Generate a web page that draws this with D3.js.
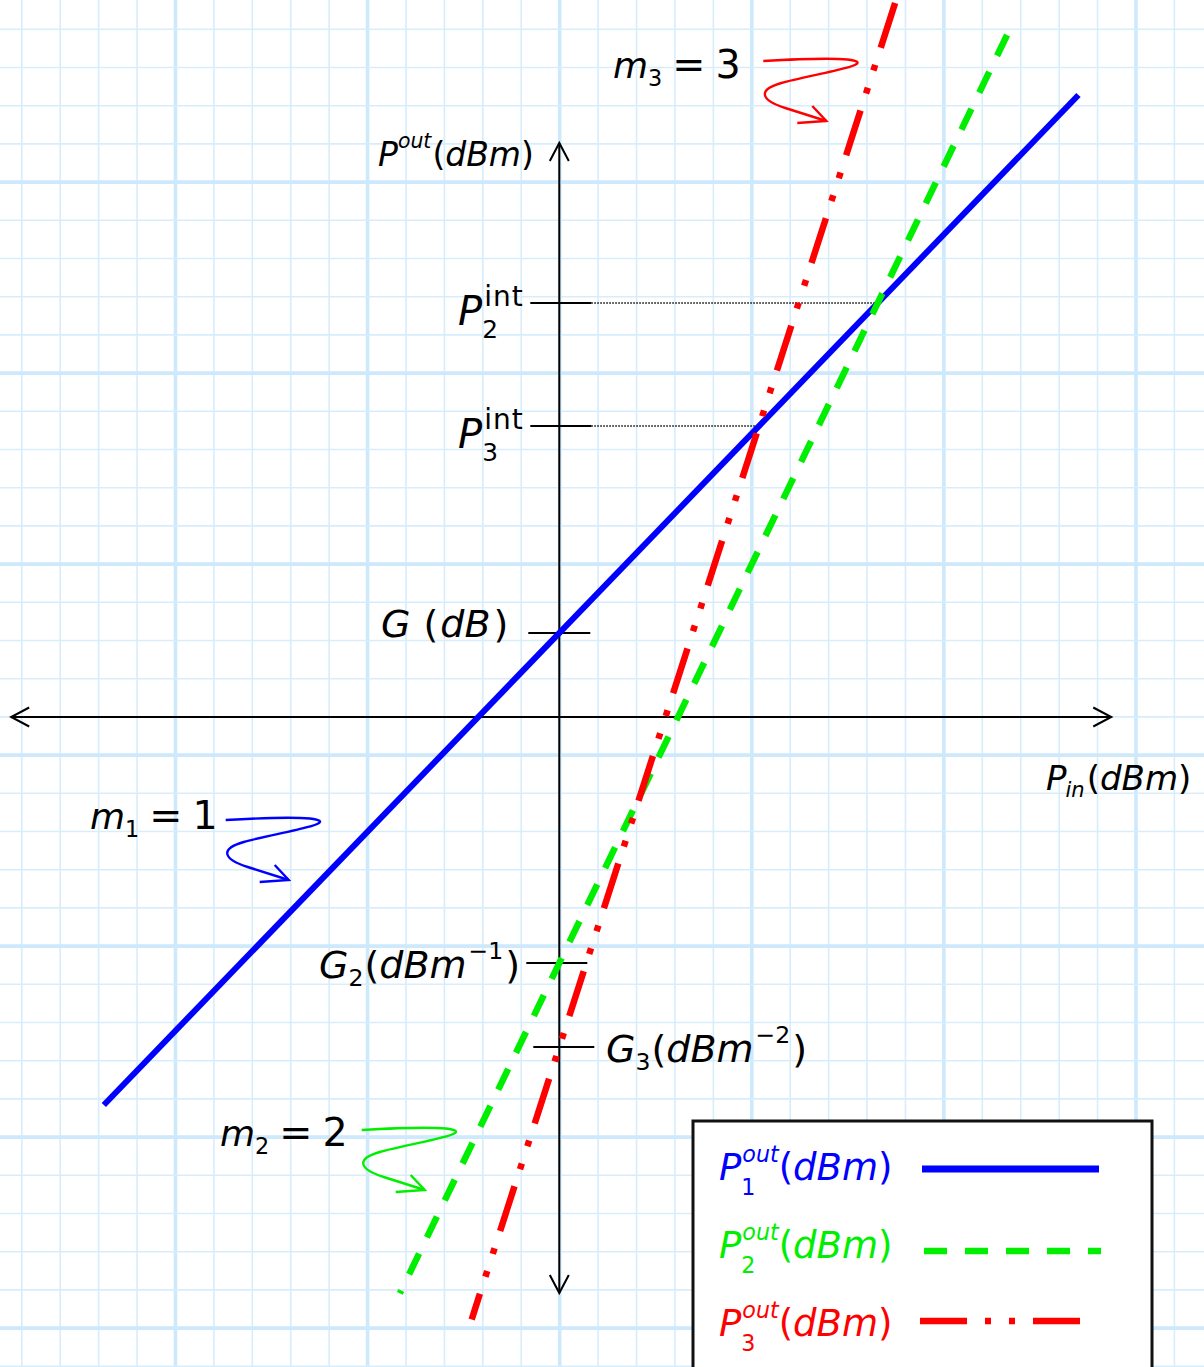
<!DOCTYPE html>
<html>
<head>
<meta charset="utf-8">
<script src="https://cdn.jsdelivr.net/npm/d3@7"></script>
<style>
  body { margin: 0; background: #fff; }
  svg { display: block; }
  text { font-family: "DejaVu Sans", sans-serif; }
</style>
</head>
<body>
<svg id="chart" width="1204" height="1367"></svg>
<script>
// ---- model: Pout_k = m_k * Pin + G_k  (all in dB / dBm) ----
const seriesKeys   = ["1", "2", "3"];
const slopes       = [1, 2, 3];
const intercepts   = [4.2, -12.3, -16.5];          // G, G2, G3
// Pin range of each drawn line, listed top end first
const pinRanges    = [[26.9, -23.6], [23.2, -8.26], [17.4, -4.54]];
const seriesColors = ["#0000ff", "#00ee00", "#ff0000"];
const seriesDashes = [null, "23 18", "47 18 6 18 6 18"];
const xAxisExtent  = [-28.4, 28.6];
const yAxisExtent  = [-28.8, 28.7];

const W = 1204, H = 1367;
const svg = d3.select("#chart");

const x = d3.scaleLinear().domain([-28, 34]).range([18.9, 1215.5]);
const y = d3.scaleLinear().domain([-32, 36]).range([1357, -3]);

// ---- graph-paper background ----
const paper = svg.append("g");
const gx0 = 21.8, gdx = 38.42, gy0 = 29.3, gdy = 38.2;
d3.range(0, 32).forEach(k => {
  const major = (k - 4) % 5 === 0;
  paper.append("line")
    .attr("x1", gx0 + k * gdx).attr("x2", gx0 + k * gdx)
    .attr("y1", 0).attr("y2", H)
    .attr("stroke", major ? "#cde9fb" : "#d7edfc")
    .attr("stroke-width", major ? 3.6 : 1.6);
});
d3.range(0, 36).forEach(k => {
  const major = (k - 4) % 5 === 0;
  paper.append("line")
    .attr("y1", gy0 + k * gdy).attr("y2", gy0 + k * gdy)
    .attr("x1", 0).attr("x2", W)
    .attr("stroke", major ? "#cde9fb" : "#d7edfc")
    .attr("stroke-width", major ? 3.6 : 1.6);
});

// ---- rich text helper: pieces laid out left to right, sub/sup via dy ----
function rich(g, x0, base, size, color, parts) {
  let cx = x0, prevStart = x0, prevW = 0;
  parts.forEach(p => {
    const fs = size * (p.s || 1);
    const px = (p.over ? prevStart : cx) + (p.dx || 0);
    const t = g.append("text")
      .attr("x", px).attr("y", base + (p.dy || 0) * size)
      .attr("font-size", fs).attr("fill", color)
      .attr("font-style", p.it ? "italic" : "normal")
      .text(p.t);
    if (p.ls) t.attr("letter-spacing", p.ls);
    const w = t.node().getComputedTextLength();
    if (p.over) {
      cx = Math.max(prevStart + prevW, px + w);
    } else {
      prevStart = px; prevW = w; cx = px + w;
    }
  });
}

// ---- axes with open arrowheads at both ends ----
const axes = svg.append("g").attr("stroke", "#000").attr("fill", "none").attr("stroke-width", 2);
axes.append("line")
  .attr("x1", x(xAxisExtent[0])).attr("x2", x(xAxisExtent[1]))
  .attr("y1", y(0)).attr("y2", y(0));
axes.append("line")
  .attr("x1", x(0)).attr("x2", x(0))
  .attr("y1", y(yAxisExtent[0])).attr("y2", y(yAxisExtent[1]));
function arrowHead(tx, ty, dirx, diry) {
  const L = 18, Hw = 9.5;
  const px = -diry, py = dirx;
  axes.append("path").attr("d",
    `M${tx - dirx * L + px * Hw},${ty - diry * L + py * Hw} L${tx},${ty} L${tx - dirx * L - px * Hw},${ty - diry * L - py * Hw}`);
}
arrowHead(x(xAxisExtent[1]), y(0), 1, 0);
arrowHead(x(xAxisExtent[0]), y(0), -1, 0);
arrowHead(x(0), y(yAxisExtent[1]), 0, -1);
arrowHead(x(0), y(yAxisExtent[0]), 0, 1);

// ---- intercept points of P1 with P2 and P3 ----
function meet(i, j) {
  const px = (intercepts[j] - intercepts[i]) / (slopes[i] - slopes[j]);
  return [px, slopes[i] * px + intercepts[i]];
}
const P2int = meet(0, 1);
const P3int = meet(0, 2);

// dotted guides from the axis ticks to the intercept points
const guides = svg.append("g").attr("stroke", "#000").attr("stroke-width", 1.4)
  .attr("stroke-dasharray", "1.5 1.5");
[P2int, P3int].forEach(p => {
  guides.append("line")
    .attr("x1", x(0) + 32).attr("x2", x(p[0]))
    .attr("y1", y(p[1])).attr("y2", y(p[1]));
});

// ---- ticks on the Pout axis ----
const tickDefs = [
  { v: P2int[1], a: -29, b: 32 },
  { v: P3int[1], a: -29, b: 32 },
  { v: intercepts[0], a: -31, b: 31 },
  { v: intercepts[1], a: -33, b: 28 },
  { v: intercepts[2], a: -26, b: 35 }
];
const ticks = svg.append("g").attr("stroke", "#000").attr("stroke-width", 2);
tickDefs.forEach(d => {
  ticks.append("line")
    .attr("x1", x(0) + d.a).attr("x2", x(0) + d.b)
    .attr("y1", y(d.v)).attr("y2", y(d.v));
});

// ---- the three response lines ----
const line = d3.line().x(d => x(d[0])).y(d => y(d[1]));
const curves = svg.append("g").attr("fill", "none");
seriesKeys.forEach((k, i) => {
  const pts = pinRanges[i].map(p => [p, slopes[i] * p + intercepts[i]]);
  const path = curves.append("path")
    .attr("d", line(pts))
    .attr("stroke", seriesColors[i])
    .attr("stroke-width", i === 0 ? 6 : 6.5)
    .attr("stroke-linecap", "butt");
  if (seriesDashes[i]) path.attr("stroke-dasharray", seriesDashes[i]);
});

// ---- labels ----
const labels = svg.append("g");
const it = true;
rich(labels, 378, 166, 33, "#000", [
  { t: "P", it }, { t: "out", it, s: 0.62, dy: -0.55, dx: 0 },
  { t: "(", dx: 1 }, { t: "dBm", it }, { t: ")" }
]);
rich(labels, 1046, 790, 34, "#000", [
  { t: "P", it }, { t: "in", it, s: 0.62, dy: 0.22, dx: -1 },
  { t: "(", dx: 2 }, { t: "dBm", it }, { t: ")" }
]);
[[P2int, "2"], [P3int, "3"]].forEach(([p, k]) => {
  const ty = y(p[1]);
  rich(labels, 458, ty + 22, 40, "#000", [
    { t: "P", it }, { t: k, s: 0.62, dy: 0.33, dx: 0 },
    { t: "int", s: 0.7, dy: -0.48, over: true, dx: 2, ls: 1 }
  ]);
});
rich(labels, 381, y(intercepts[0]) + 4, 38, "#000", [
  { t: "G", it }, { t: "(", dx: 13 }, { t: "dB", it, dx: 2 }, { t: ")", dx: 3 }
]);
rich(labels, 319, y(intercepts[1]) + 15, 38, "#000", [
  { t: "G", it }, { t: "2", s: 0.62, dy: 0.2, dx: 0 },
  { t: "(", dx: 1 }, { t: "dBm", it }, { t: "\u22121", s: 0.62, dy: -0.5, dx: 2 }, { t: ")", dx: 2 }
]);
rich(labels, 606, y(intercepts[2]) + 15, 38, "#000", [
  { t: "G", it }, { t: "3", s: 0.62, dy: 0.2, dx: 0 },
  { t: "(", dx: 1 }, { t: "dBm", it }, { t: "\u22122", s: 0.62, dy: -0.5, dx: 2 }, { t: ")", dx: 2 }
]);

// slope call-outs with curly arrows
const calloutPos = [[90, 829, 225.7, 820], [220, 1146, 361.7, 1130], [613, 78, 763.3, 61]];
const curl = "M0,0 C35,-2 88,-4 94,1 C99,6 42,15 18,22 C-6,29 -3,39 22,47 L63,60";
const curlHead = "M49,45 L63,60 L34,62";
seriesKeys.forEach((k, i) => {
  const [tx, tb, ax, ay] = calloutPos[i];
  rich(labels, tx, tb, 36, "#000", [
    { t: "m", it }, { t: k, s: 0.62, dy: 0.22, dx: 0 },
    { t: "=", s: 1.1, dx: 10 }, { t: String(slopes[i]), s: 1.1, dx: 10 }
  ]);
  const a = labels.append("g").attr("transform", `translate(${ax},${ay})`)
    .attr("fill", "none").attr("stroke", seriesColors[i]).attr("stroke-width", 2.4);
  a.append("path").attr("d", curl);
  a.append("path").attr("d", curlHead);
});

// ---- legend ----
const legend = svg.append("g");
legend.append("rect")
  .attr("x", 693).attr("y", 1121).attr("width", 459).attr("height", 300)
  .attr("fill", "#fff").attr("stroke", "#111").attr("stroke-width", 3);
const legendTextY = [1180, 1258, 1336];
const legendLineY = [1169, 1251, 1321];
const legendLineX = [[922, 1099], [924, 1101], [920, 1082]];
seriesKeys.forEach((k, i) => {
  rich(legend, 719, legendTextY[i], 37, seriesColors[i], [
    { t: "P", it }, { t: k, s: 0.6, dy: 0.4, dx: 0 },
    { t: "out", it, s: 0.6, dy: -0.5, over: true, dx: 1 },
    { t: "(", dx: 0 }, { t: "dBm", it }, { t: ")" }
  ]);
  const l = legend.append("line")
    .attr("x1", legendLineX[i][0]).attr("x2", legendLineX[i][1])
    .attr("y1", legendLineY[i]).attr("y2", legendLineY[i])
    .attr("stroke", seriesColors[i]).attr("stroke-width", i === 0 ? 7 : 6.5);
  if (seriesDashes[i]) l.attr("stroke-dasharray", seriesDashes[i]);
});
</script>
</body>
</html>
